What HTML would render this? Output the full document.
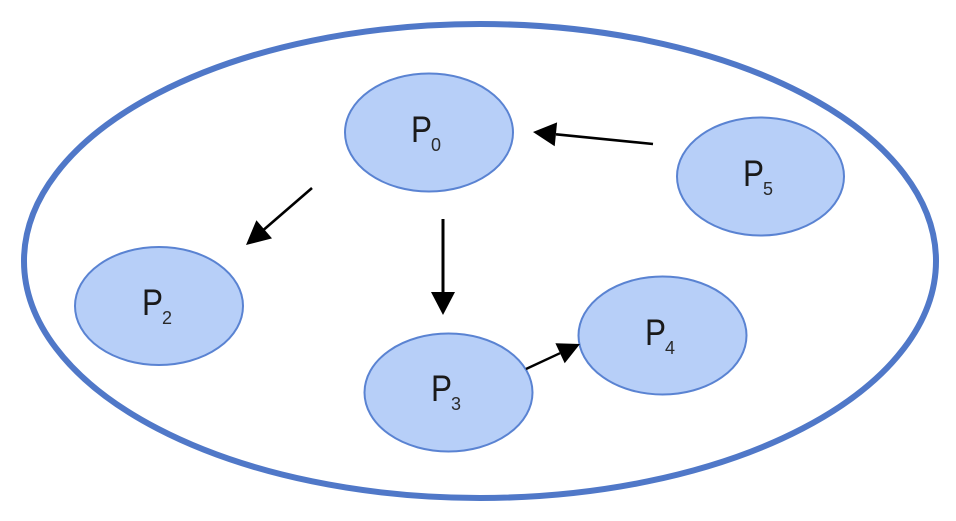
<!DOCTYPE html>
<html>
<head>
<meta charset="utf-8">
<style>
  html, body { margin: 0; padding: 0; background: #ffffff; }
  body { width: 956px; height: 521px; overflow: hidden; }
  svg { display: block; }
  .node { fill: #B7CFF8; stroke: #5A83D2; stroke-width: 2; }
  .lbl { font-family: "Liberation Sans", sans-serif; font-size: 37px; fill: #1a1a1a; }
  .sub { font-family: "Liberation Sans", sans-serif; font-size: 18px; fill: #2a2a2a; }
</style>
</head>
<body>
<svg width="956" height="521" viewBox="0 0 956 521" xmlns="http://www.w3.org/2000/svg">
  <rect width="956" height="521" fill="#ffffff"/>
  <!-- outer ellipse -->
  <ellipse cx="480" cy="261" rx="456" ry="237" fill="none" stroke="#5078C8" stroke-width="6"/>

  <!-- nodes -->
  <ellipse class="node" cx="429" cy="132.5" rx="84" ry="59"/>
  <text class="lbl" x="411" y="142" textLength="21" lengthAdjust="spacingAndGlyphs">P</text><text class="sub" x="431" y="151">0</text>

  <ellipse class="node" cx="760.5" cy="176.5" rx="83.5" ry="59"/>
  <text class="lbl" x="743" y="186" textLength="21" lengthAdjust="spacingAndGlyphs">P</text><text class="sub" x="763" y="195">5</text>

  <ellipse class="node" cx="159" cy="306" rx="84" ry="59"/>
  <text class="lbl" x="142" y="315" textLength="21" lengthAdjust="spacingAndGlyphs">P</text><text class="sub" x="162" y="324">2</text>

  <ellipse class="node" cx="448.5" cy="392.5" rx="84" ry="59"/>
  <text class="lbl" x="431" y="401" textLength="21" lengthAdjust="spacingAndGlyphs">P</text><text class="sub" x="451" y="410">3</text>

  <ellipse class="node" cx="662.5" cy="335.5" rx="84" ry="59"/>
  <text class="lbl" x="645" y="345" textLength="21" lengthAdjust="spacingAndGlyphs">P</text><text class="sub" x="665" y="354">4</text>

  <!-- arrows -->
  <!-- P5 -> P0 -->
  <line x1="653" y1="144" x2="556" y2="134.3" stroke="#000" stroke-width="2.6"/>
  <polygon points="533,132 557.1,122.4 554.7,146.2" fill="#000"/>

  <!-- P0 -> P3 (down) -->
  <line x1="443" y1="219" x2="443" y2="293" stroke="#000" stroke-width="3"/>
  <polygon points="443,315 431,292 455,292" fill="#000"/>

  <!-- P0 -> P2 -->
  <line x1="312" y1="188" x2="264" y2="229.5" stroke="#000" stroke-width="2.6"/>
  <polygon points="246,245 256.4,220.2 272,238.4" fill="#000"/>

  <!-- P3 -> P4 -->
  <line x1="526" y1="369" x2="560" y2="353.2" stroke="#000" stroke-width="2.4"/>
  <polygon points="580,344 564.7,363.2 555.4,343.2" fill="#000"/>
</svg>
</body>
</html>
